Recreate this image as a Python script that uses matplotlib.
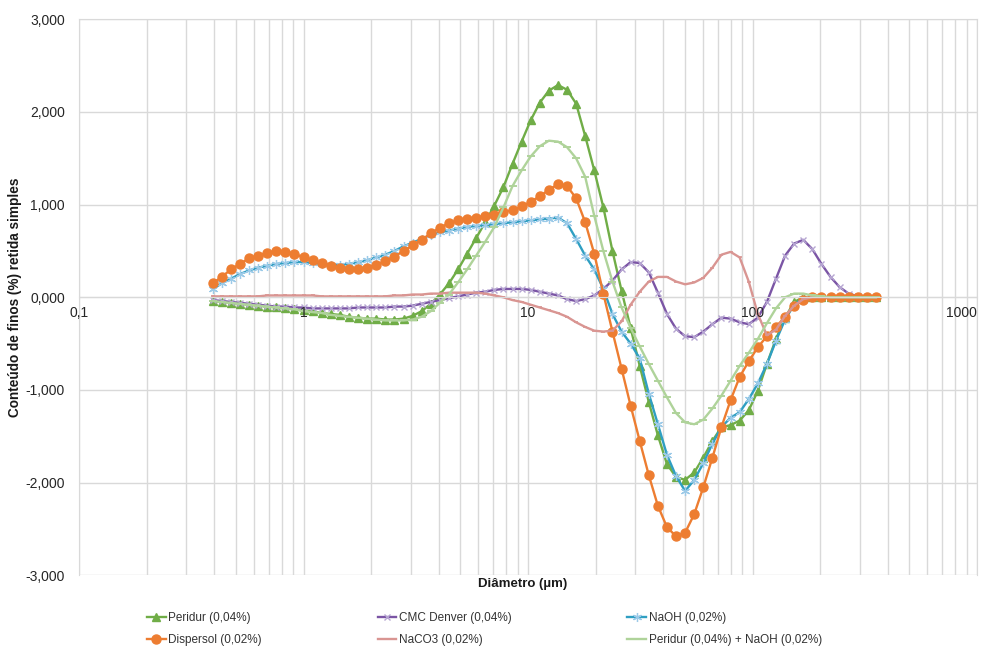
import numpy as np
import matplotlib
matplotlib.use("Agg")
import matplotlib.pyplot as plt
from matplotlib.ticker import FixedLocator, LogLocator, NullFormatter

plt.rcParams['font.family'] = ['Liberation Sans', 'DejaVu Sans']

# diametros das classes (um)
diametro = [0.394, 0.4325, 0.4746, 0.5209, 0.5719, 0.6277, 0.6890, 0.7563, 0.8304, 0.9115,
            1.0005, 1.098, 1.205, 1.323, 1.452, 1.594, 1.750, 1.921, 2.109, 2.314,
            2.541, 2.789, 3.061, 3.360, 3.688, 4.049, 4.443, 4.878, 5.355, 5.876,
            6.451, 7.081, 7.773, 8.531, 9.366, 10.28, 11.28, 12.39, 13.60, 14.92,
            16.38, 17.98, 19.73, 21.66, 23.78, 26.11, 28.65, 31.45, 34.52, 37.89,
            41.59, 45.66, 50.11, 55.01, 60.38, 66.29, 72.75, 79.86, 87.66, 96.21,
            105.6, 115.9, 127.2, 139.7, 153.3, 168.3, 184.7, 202.8, 222.6, 244.3,
            268.2, 294.4, 323.1, 354.7]

peridur = [-0.04, -0.05, -0.06, -0.07, -0.08, -0.09, -0.10, -0.11, -0.12, -0.13,
           -0.14, -0.15, -0.17, -0.18, -0.19, -0.21, -0.22, -0.23, -0.23, -0.24,
           -0.24, -0.23, -0.20, -0.15, -0.07, 0.03, 0.15, 0.30, 0.47, 0.64,
           0.81, 0.99, 1.19, 1.44, 1.68, 1.91, 2.10, 2.23, 2.29, 2.24,
           2.09, 1.74, 1.37, 0.97, 0.50, 0.07, -0.33, -0.74, -1.13, -1.49,
           -1.80, -1.94, -1.97, -1.89, -1.73, -1.55, -1.40, -1.38, -1.33, -1.22,
           -1.01, -0.72, -0.45, -0.22, -0.05, 0.0, 0.0, 0.0, 0.0, 0.0,
           0.0, 0.0, 0.0, 0.0]

cmc = [-0.03, -0.04, -0.05, -0.06, -0.07, -0.08, -0.09, -0.10, -0.10, -0.11,
       -0.11, -0.12, -0.12, -0.12, -0.12, -0.12, -0.11, -0.11, -0.11, -0.11,
       -0.10, -0.10, -0.09, -0.07, -0.05, -0.03, -0.01, 0.01, 0.03, 0.05,
       0.06, 0.08, 0.09, 0.09, 0.09, 0.08, 0.06, 0.04, 0.02, -0.02,
       -0.04, -0.02, 0.02, 0.09, 0.18, 0.30, 0.38, 0.37, 0.27, 0.05,
       -0.18, -0.34, -0.42, -0.43, -0.37, -0.29, -0.22, -0.23, -0.27, -0.29,
       -0.22, -0.05, 0.20, 0.45, 0.58, 0.62, 0.52, 0.36, 0.22, 0.11,
       0.04, 0.01, 0.0, 0.0]

naoh = [0.09, 0.15, 0.20, 0.25, 0.29, 0.32, 0.34, 0.36, 0.37, 0.38,
        0.38, 0.37, 0.36, 0.35, 0.35, 0.36, 0.38, 0.40, 0.43, 0.46,
        0.50, 0.55, 0.59, 0.63, 0.67, 0.70, 0.72, 0.74, 0.76, 0.77,
        0.78, 0.79, 0.80, 0.81, 0.82, 0.83, 0.84, 0.85, 0.86, 0.80,
        0.63, 0.45, 0.30, 0.09, -0.18, -0.37, -0.50, -0.66, -1.04, -1.37,
        -1.70, -1.93, -2.09, -1.97, -1.79, -1.58, -1.40, -1.30, -1.24, -1.10,
        -0.93, -0.72, -0.47, -0.24, -0.08, -0.01, 0.0, 0.0, 0.0, 0.0,
        0.0, 0.0, 0.0, 0.0]

dispersol = [0.15, 0.22, 0.30, 0.36, 0.42, 0.45, 0.48, 0.50, 0.49, 0.47,
             0.43, 0.40, 0.37, 0.34, 0.32, 0.31, 0.30, 0.32, 0.35, 0.39,
             0.44, 0.50, 0.56, 0.62, 0.69, 0.75, 0.80, 0.83, 0.85, 0.86,
             0.88, 0.89, 0.92, 0.94, 0.98, 1.03, 1.09, 1.16, 1.22, 1.20,
             1.07, 0.81, 0.47, 0.04, -0.37, -0.77, -1.17, -1.55, -1.92, -2.25,
             -2.48, -2.58, -2.54, -2.34, -2.05, -1.73, -1.40, -1.11, -0.86, -0.69,
             -0.54, -0.42, -0.32, -0.21, -0.09, -0.03, 0.0, 0.0, 0.0, 0.0,
             0.0, 0.0, 0.0, 0.0]

naco3 = [0.01, 0.01, 0.01, 0.01, 0.01, 0.01, 0.02, 0.02, 0.02, 0.02,
         0.02, 0.02, 0.01, 0.01, 0.01, 0.01, 0.01, 0.01, 0.01, 0.01,
         0.02, 0.02, 0.03, 0.03, 0.04, 0.04, 0.05, 0.05, 0.05, 0.05,
         0.04, 0.02, 0.0, -0.03, -0.05, -0.08, -0.11, -0.14, -0.17, -0.21,
         -0.27, -0.32, -0.36, -0.37, -0.36, -0.26, -0.08, 0.06, 0.17, 0.22,
         0.22, 0.17, 0.14, 0.16, 0.21, 0.32, 0.46, 0.49, 0.43, 0.17,
         -0.18, -0.41, -0.35, -0.20, -0.09, -0.02, 0.0, 0.0, 0.0, 0.0,
         0.0, 0.0, 0.0, 0.0]

peridur_naoh = [-0.04, -0.05, -0.06, -0.07, -0.08, -0.09, -0.10, -0.11, -0.12, -0.13,
                -0.15, -0.16, -0.17, -0.19, -0.20, -0.21, -0.22, -0.23, -0.24, -0.25,
                -0.25, -0.25, -0.24, -0.21, -0.15, -0.06, 0.03, 0.16, 0.30, 0.45,
                0.60, 0.76, 0.97, 1.20, 1.37, 1.52, 1.63, 1.69, 1.68, 1.62,
                1.50, 1.30, 0.88, 0.50, 0.17, -0.11, -0.33, -0.53, -0.72, -0.90,
                -1.08, -1.25, -1.35, -1.37, -1.32, -1.20, -1.06, -0.90, -0.74, -0.60,
                -0.45, -0.28, -0.12, 0.0, 0.04, 0.04, 0.02, 0.01, 0.0, 0.0,
                0.0, 0.0, 0.0, 0.0]

yticks = [-3, -2, -1, 0, 1, 2, 3]
xticks = [0.1, 1, 10, 100, 1000]
xtick_labels = ['0,1', '1', '10', '100', '1000']

fig = plt.figure(figsize=(9.92, 6.48), dpi=100)
ax = fig.add_axes([79 / 992, 1 - 575.3 / 648, 898 / 992, 556 / 648])

ax.set_xscale('log')
ax.set_xlim(0.1, 1000)
ax.set_ylim(-3, 3)

grid_c = '#D9D9D9'
ax.xaxis.set_major_locator(FixedLocator(xticks))
ax.xaxis.set_minor_locator(LogLocator(base=10, subs=np.arange(2, 10)))
ax.xaxis.set_major_formatter(NullFormatter())
ax.xaxis.set_minor_formatter(NullFormatter())
ax.grid(True, which='major', axis='both', color=grid_c, lw=1)
ax.grid(True, which='minor', axis='x', color=grid_c, lw=1)
ax.set_axisbelow(True)

series = [
    ('Peridur (0,04%)', peridur, dict(color='#70AD47', marker='^', ms=5.5, mfc='#70AD47', mec='#70AD47')),
    ('CMC Denver (0,04%)', cmc, dict(color='#7B55A5', marker='x', ms=5, mec='#B6A6D2', mew=1.0)),
    ('NaOH (0,02%)', naoh, dict(color='#2F9FC2', marker=(6, 2, 0), ms=6.5, mec='#9CCAE8', mew=0.9)),
    ('Dispersol (0,02%)', dispersol, dict(color='#ED7D31', marker='o', ms=6.5, mfc='#ED7D31', mec='#ED7D31')),
    ('NaCO3 (0,02%)', naco3, dict(color='#D99592', marker='_', ms=3.5, mew=1.2)),
    ('Peridur (0,04%) + NaOH (0,02%)', peridur_naoh, dict(color='#AFD39A', marker='_', ms=6, mew=1.4)),
]

handles = []
for name, vals, st in series:
    h, = ax.plot(diametro, vals, lw=1.7, label=name, **st)
    handles.append(h)

ax.set_yticks(yticks)
ax.set_yticklabels([f'{v:.3f}'.replace('.', ',') for v in yticks])

# eixo x cruza no zero (como no Excel), rotulos por cima das curvas
ax.spines['bottom'].set_position(('data', 0))
for s in ax.spines.values():
    s.set_color(grid_c)
ax.tick_params(axis='both', which='both', length=0, labelsize=10, labelcolor='#262626')
ax.tick_params(axis='y', pad=10)
for xv, lbl in zip(xticks, xtick_labels):
    ax.annotate(lbl, xy=(xv, 0), xycoords='data', xytext=(0, -6), textcoords='offset points',
                ha='right' if xv == 1000 else 'center', va='top', fontsize=10,
                color='#262626', zorder=10, annotation_clip=False)

fig.text(523 / 992, 1 - 584 / 648, 'Diâmetro (µm)', ha='center', va='center',
         fontsize=9.5, fontweight='bold', color='#1a1a1a')
fig.text(15 / 992, 1 - 297 / 648, 'Conteúdo de finos (%) retida simples', ha='center',
         va='center', rotation=90, fontsize=9.8, fontweight='bold', color='#1a1a1a')

# legenda em 3 colunas, preenchida por linha como no Excel
order = [0, 3, 1, 4, 2, 5]
leg = fig.legend(handles=[handles[k] for k in order], loc='upper left',
                 bbox_to_anchor=(147 / 992, 1 - 612 / 648),
                 ncol=3, frameon=False, fontsize=8.5, handlelength=1.6, handletextpad=0.2,
                 columnspacing=9.8, labelspacing=0.85, borderpad=0, borderaxespad=0)
for t in leg.get_texts():
    t.set_color('#333333')

fig.savefig('out.png', dpi=100)
